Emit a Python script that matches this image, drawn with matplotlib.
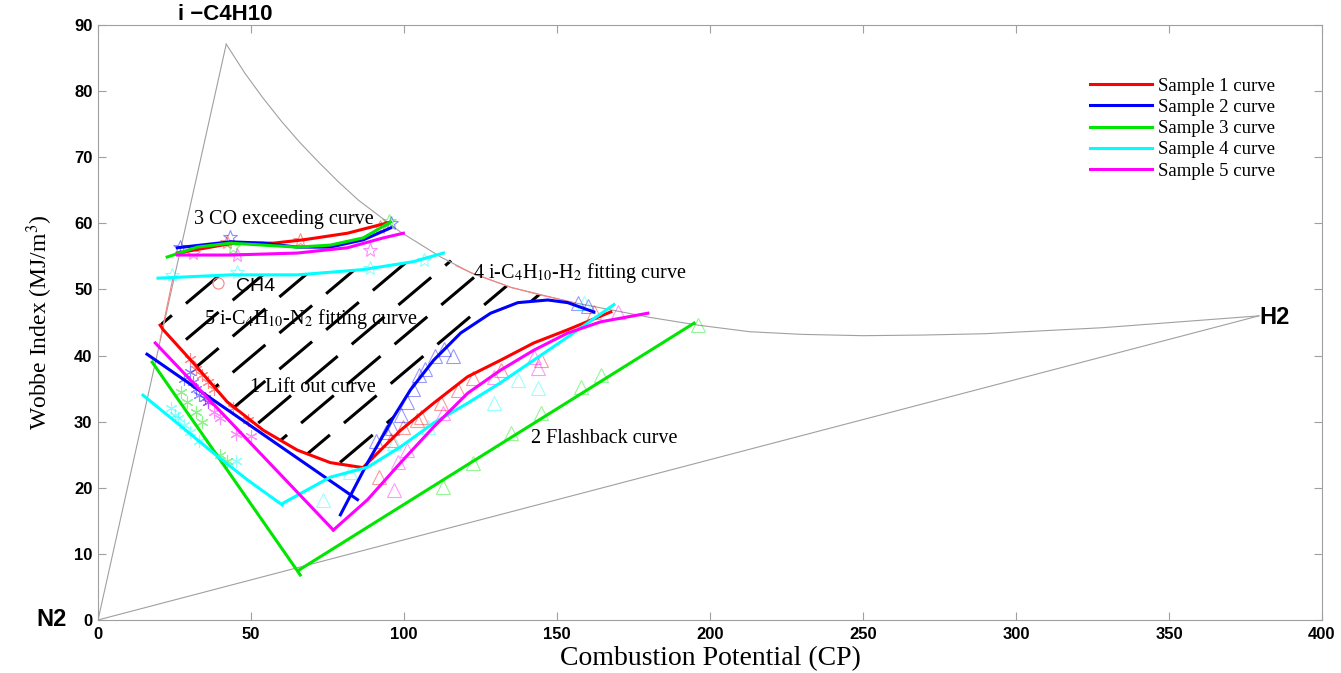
import numpy as np
import matplotlib.pyplot as plt
from matplotlib.patches import Polygon

plt.rcParams['font.family'] = ['Liberation Serif', 'DejaVu Serif']
plt.rcParams['mathtext.fontset'] = 'stix'

# gas boundary: N2 -> i-C4H10 -> H2
edge_left_x = [0, 41.9]
edge_left_y = [0, 87.1]
edge_top_x = [41.9, 48, 54, 60, 66, 72, 78.5, 85.1, 98.8, 112, 122, 135, 155.5, 180, 196, 213,
              230, 250, 270, 290, 328, 379.4]
edge_top_y = [87.1, 82.7, 78.9, 75.4, 72.2, 69.3, 66.3, 63.5, 58.7, 54.9, 52.5, 50.3, 48.0, 45.8, 44.6, 43.6,
              43.2, 43.0, 43.1, 43.3, 44.2, 46.0]
edge_bottom_x = [0, 379.4]
edge_bottom_y = [0, 46.0]

# fitted boundaries (thin red)
fit_n2_x = [20.3, 24.5]
fit_n2_y = [42.4, 51.8]
fit_h2_x = [117, 122, 135, 145, 155.5]
fit_h2_y = [53.6, 52.5, 50.3, 49.1, 48.0]

labels = ['Sample 1 curve', 'Sample 2 curve', 'Sample 3 curve', 'Sample 4 curve', 'Sample 5 curve']
colors = ['#ff0000', '#0000ff', '#00e600', '#00ffff', '#ff00ff']

# 3 CO exceeding curves
co_x = [[25.9, 44.2, 57.3, 67.1, 81.5, 94.9],
        [25.9, 43.2, 54.0, 65.1, 75.9, 86.7, 95.6],
        [22.6, 32.4, 43.2, 54.0, 65.1, 75.9, 86.7, 95.6],
        [19.6, 43.2, 65.1, 86.7, 103.1, 112.9],
        [25.9, 43.2, 65.1, 81.5, 93.3, 99.8]]
co_y = [[55.5, 57.0, 57.0, 57.5, 58.5, 60.1],
        [56.3, 57.2, 57.0, 56.4, 56.4, 57.5, 59.3],
        [54.9, 56.4, 57.0, 56.7, 56.4, 56.7, 57.8, 60.2],
        [51.7, 52.2, 52.2, 53.0, 54.2, 55.5],
        [55.2, 55.2, 55.5, 56.3, 57.8, 58.5]]

# 1 lift out curves
lift_x = [[20.3, 21.3, 31.1, 42.2, 54.0, 65.1, 75.9, 85.8],
          [16.0, 84.8],
          [17.7, 66.1],
          [14.7, 24.5, 37.6, 48.8, 60.2],
          [18.7, 76.9]]
lift_y = [[44.6, 43.9, 38.9, 33.0, 28.7, 25.7, 23.8, 23.1],
          [40.2, 18.2],
          [39.0, 6.8],
          [34.0, 30.3, 25.3, 21.2, 17.4],
          [41.9, 13.6]]

# 2 flashback curves
flash_x = [[86.7, 98.9, 109.7, 120.8, 131.6, 142.4, 153.5, 167.6],
           [79.2, 88.1, 96.6, 102.1, 109.7, 118.5, 128.3, 137.2, 147.0, 153.5, 162.0],
           [65.5, 194.8],
           [60.6, 75.9, 88.1, 98.9, 109.7, 120.8, 131.6, 142.4, 153.5, 168.6],
           [76.9, 88.1, 98.9, 109.7, 120.8, 131.6, 142.4, 153.5, 164.3, 179.7]]
flash_y = [[23.1, 28.7, 32.8, 36.8, 39.3, 41.9, 43.9, 46.6],
           [15.9, 23.8, 30.7, 34.8, 39.3, 43.4, 46.4, 48.0, 48.4, 48.0, 46.6],
           [7.5, 44.9],
           [17.7, 21.6, 23.1, 26.2, 29.8, 32.8, 35.9, 39.3, 42.8, 47.7],
           [13.6, 18.2, 23.8, 29.2, 34.3, 37.8, 40.8, 43.4, 45.1, 46.4]]

# measured points
star_x = [[42, 66, 92], [26.8, 43.2, 95.6], [44, 95], [24.2, 45.5, 89, 106.4], [31.1, 45.5, 89]]
star_y = [[57.2, 57.5, 59.5], [56.4, 57.9, 60.0], [56.4, 60.3], [52.2, 52.6, 53.3, 54.5], [55.5, 55.2, 56.0]]

ast_x = [[30, 32, 34, 36, 38, 44, 49], [28, 30, 31, 32, 33, 35, 36], [27, 29, 32, 34, 40, 42],
         [24, 25, 26, 28, 30, 33, 45], [36, 38, 40, 45, 50]]
ast_y = [[39.5, 38, 37, 36, 35, 32, 30.3], [36.5, 37.5, 36, 35, 34, 33.5, 33], [34.5, 33, 31.5, 30, 25, 24],
         [32, 31, 30.5, 29.5, 28.5, 27, 24], [33, 31.5, 30.5, 28.2, 27.8]]

tri_x = [[91.7, 95.6, 99.8, 104.4, 105.4, 112, 117.5, 122.7, 131.6, 144.7, 162],
         [91, 94, 96, 99, 101, 103, 105, 107, 110, 113, 116, 157, 160],
         [112.9, 122.7, 134.9, 144.7, 157.8, 164.3, 196.1],
         [73.6, 82.5, 96.6, 107.7, 129.3, 137.2, 143.7, 158.8],
         [96.6, 97.9, 101.1, 112.9, 129.3, 142.4, 143.7, 169.9]]
tri_y = [[21.6, 27.2, 29.2, 30.3, 30.7, 32.8, 34.8, 36.6, 37.8, 39.3, 46.6],
         [27, 28.5, 29, 31, 33, 35, 37, 38, 40, 41, 40, 48, 47.5],
         [20.1, 23.8, 28.3, 31.3, 35.3, 37.1, 44.6],
         [18.2, 22.4, 26.8, 29.2, 32.8, 36.3, 35.1, 48.0],
         [19.7, 23.9, 25.7, 31.3, 36.8, 39.8, 38.1, 46.6]]

ch4_x, ch4_y = 39.3, 51.0

fig = plt.figure(figsize=(13.41, 6.73), dpi=100)
ax = fig.add_axes([0.0731, 0.0788, 0.9127, 0.8841])

ax.plot(edge_left_x, edge_left_y, color='#a0a0a0', lw=0.8)
ax.plot(edge_top_x, edge_top_y, color='#a0a0a0', lw=0.8)
ax.plot(edge_bottom_x, edge_bottom_y, color='#a0a0a0', lw=0.8)
ax.plot(fit_n2_x, fit_n2_y, color='#ff8080', lw=0.8)
ax.plot(fit_h2_x, fit_h2_y, color='#ff8080', lw=0.8)

# hatched region between the curves
bx, by = np.array(flash_x[1]), np.array(flash_y[1])
lx, ly = np.array(lift_x[0]), np.array(lift_y[0])
cx, cy = np.array(co_x[3]), np.array(co_y[3])
poly = ([(lift_x[0][0], lift_y[0][0]), (fit_n2_x[1], fit_n2_y[1])]
        + [(a, b) for a, b in zip(cx, cy) if a > 25]
        + list(zip(fit_h2_x, fit_h2_y))
        + [(a, b) for a, b in zip(bx[::-1], by[::-1]) if a > 86]
        + [(a, b) for a, b in zip(lx[::-1], ly[::-1])])
clip = Polygon(poly, closed=True, fill=False, edgecolor='none', transform=ax.transData)
ax.add_patch(clip)
for x0 in np.arange(-150, 200, 14):
    xs = np.array([x0, x0 + 200])
    ln, = ax.plot(xs, 0.39 * (xs - x0), color='black', lw=2.2,
                  dashes=(14, 6), zorder=1.5)
    ln.set_clip_path(clip)

for i in range(5):
    c = colors[i]
    ax.plot(co_x[i], co_y[i], color=c, lw=2.2, zorder=3)
    ax.plot(lift_x[i], lift_y[i], color=c, lw=2.2, zorder=3, label=labels[i])
    ax.plot(flash_x[i], flash_y[i], color=c, lw=2.2, zorder=3)
    ax.plot(star_x[i], star_y[i], ls='none', marker='*', ms=10, mfc='none', mec=c, mew=0.8, alpha=0.45)
    ax.plot(ast_x[i], ast_y[i], ls='none', marker=(6, 2, 0), ms=9, mec=c, mew=0.8, alpha=0.45)
    ax.plot(tri_x[i], tri_y[i], ls='none', marker='^', ms=10, mfc='none', mec=c, mew=0.8, alpha=0.4)

ax.plot([ch4_x], [ch4_y], ls='none', marker='o', ms=8, mfc='none', mec='#ff8080', mew=0.8)

sans = 'Liberation Sans'
ax.text(45.2, 50.4, 'CH4', family=sans, fontsize=14, va='center')
ax.text(26.2, 91.6, 'i \u2212C4H10', family=sans, fontsize=16, weight='bold', va='center')
ax.text(-20, 0, 'N2', family=sans, fontsize=17, weight='bold', va='center')
ax.text(379.7, 45.7, 'H2', family=sans, fontsize=17, weight='bold', va='center')

ax.text(31.4, 60.5, '3 CO exceeding curve', fontsize=14.5, va='center')
ax.text(34.7, 45.5, r'5 i-C$_4$H$_{10}$-N$_2$ fitting curve', fontsize=14.5, va='center')
ax.text(122.7, 52.5, r'4 i-C$_4$H$_{10}$-H$_2$ fitting curve', fontsize=14.5, va='center')
ax.text(49.8, 35.1, '1 Lift out curve', fontsize=14.5, va='center')
ax.text(141.4, 27.5, '2 Flashback curve', fontsize=14.5, va='center')

ax.set_xlim(0, 400)
ax.set_ylim(0, 90)
ax.set_xticks(np.arange(0, 401, 50))
ax.set_yticks(np.arange(0, 91, 10))
ax.tick_params(direction='in', top=True, right=True, length=6, color='#a0a0a0', labelsize=12)
ax.tick_params(axis='x', pad=5)
ax.tick_params(axis='y', pad=4)
plt.setp(ax.get_xticklabels() + ax.get_yticklabels(), family=sans, weight='bold')
for sp in ax.spines.values():
    sp.set_color('#a0a0a0')

ax.set_xlabel('Combustion Potential (CP)', fontsize=20, labelpad=3)
ax.set_ylabel('Wobbe Index (MJ/m$^3$)', fontsize=17, labelpad=14)

ax.legend(loc='upper left', bbox_to_anchor=(0.797, 0.94), frameon=False, fontsize=13.5,
          handlelength=3.3, handletextpad=0.3, labelspacing=0.22)

fig.savefig('out.png', dpi=100)
